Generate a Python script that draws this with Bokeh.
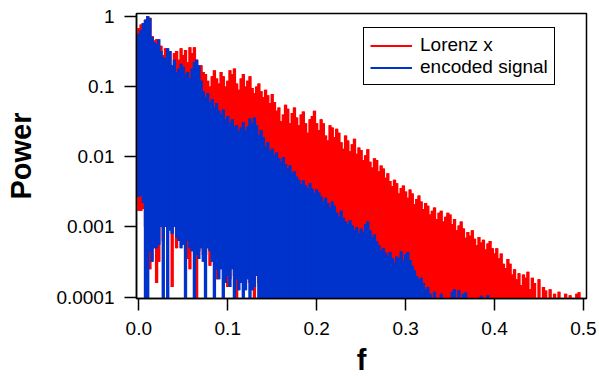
from bokeh.plotting import figure
from bokeh.models import (ColumnDataSource, FixedTicker, CustomJSTickFormatter,
                          Range1d, Legend, LegendItem)
from bokeh.embed import file_html
from bokeh.resources import INLINE

# frequency grid step of the spectra
df = 0.0025

# Lorenz x power spectrum: per-bin maximum (top) and minimum (bottom)
red_top = [
    0.68, 0.76, 0.8, 0.89, 1.0, 0.95, 0.52, 0.45, 0.47, 0.32,
    0.38, 0.28, 0.35, 0.24, 0.32, 0.2, 0.3, 0.32, 0.24, 0.35,
    0.28, 0.33, 0.22, 0.36, 0.3, 0.36, 0.24, 0.18, 0.2, 0.16,
    0.15, 0.12, 0.1, 0.14, 0.17, 0.13, 0.11, 0.16, 0.14, 0.1,
    0.12, 0.17, 0.15, 0.18, 0.11, 0.09, 0.13, 0.15, 0.1, 0.12,
    0.14, 0.095, 0.08, 0.1, 0.11, 0.085, 0.07, 0.09, 0.075, 0.058,
    0.078, 0.06, 0.045, 0.05, 0.032, 0.04, 0.055, 0.048, 0.03, 0.042,
    0.05, 0.036, 0.028, 0.04, 0.044, 0.03, 0.022, 0.034, 0.038, 0.045,
    0.03, 0.024, 0.034, 0.03, 0.02, 0.017, 0.028, 0.026, 0.019, 0.025,
    0.022, 0.016, 0.013, 0.02, 0.017, 0.012, 0.015, 0.018, 0.011, 0.0135,
    0.0125, 0.009, 0.0105, 0.0128, 0.0085, 0.007, 0.0095, 0.009, 0.0062, 0.0075,
    0.0068, 0.005, 0.0058, 0.0045, 0.0038, 0.0047, 0.0042, 0.003, 0.0036, 0.0039,
    0.0032, 0.0026, 0.0034, 0.003, 0.0021, 0.0025, 0.0028, 0.0023, 0.0018, 0.0022,
    0.002, 0.0015, 0.0017, 0.0019, 0.0013, 0.0016, 0.0017, 0.0012, 0.0014, 0.0016,
    0.0015, 0.0011, 0.0013, 0.0009, 0.00105, 0.0012, 0.00095, 0.0007, 0.00085, 0.00075,
    0.0009, 0.00068, 0.00055, 0.00072, 0.0006, 0.00066, 0.00048, 0.00058, 0.00063, 0.0005,
    0.00042, 0.0005, 0.00036, 0.00042, 0.0003, 0.00026, 0.00035, 0.0003, 0.00021, 0.00025,
    0.00018, 0.00022, 0.00015, 0.00021, 0.00019, 0.00023, 0.00013, 0.00019, 0.00016, 0.00009,
    0.00018, 0.00008, 0.00014, 0.000125, 0.000063, 0.00013, 0.000063, 0.000112, 0.00005, 0.00012,
    0.000063, 0.00005, 0.000112, 0.00005, 0.000107, 0.00005, 0.00005, 0.000112, 0.000118, 0.00005,
]
red_bottom = [
    0.0017, 0.0017, 0.0018, 0.001, 0.001, 0.00025, 0.0005, 0.00063, 0.00016, 0.00032,
    0.00126, 0.00063, 0.00126, 0.001, 0.0011, 0.00014, 0.00126, 0.0005, 0.0008, 0.00063,
    0.0007, 0.00063, 0.00035, 0.00025, 0.00056, 0.0005, 1e-6, 0.00045, 0.00063, 0.0004,
    0.0004, 0.00063, 0.00028, 0.0004, 0.00032, 0.00018, 0.00025, 0.00032, 0.00025, 0.0002,
    0.00014, 0.00018, 0.00032, 0.0002, 1e-6, 0.00016, 0.0002, 0.00016, 0.00016, 0.00022,
    0.00016, 0.00016, 1e-6, 0.00025, 0.00016, 1e-6, 1e-6, 1e-6, 1e-6, 1e-6,
    1e-6, 1e-6, 1e-6, 1e-6, 1e-6, 1e-6, 1e-6, 1e-6, 1e-6, 1e-6,
    1e-6, 1e-6, 1e-6, 1e-6, 1e-6, 1e-6, 1e-6, 1e-6, 1e-6, 1e-6,
    1e-6, 1e-6, 1e-6, 1e-6, 1e-6, 1e-6, 1e-6, 1e-6, 1e-6, 1e-6,
    1e-6, 1e-6, 1e-6, 1e-6, 1e-6, 1e-6, 1e-6, 1e-6, 1e-6, 1e-6,
    1e-6, 1e-6, 1e-6, 1e-6, 1e-6, 1e-6, 1e-6, 1e-6, 1e-6, 1e-6,
    1e-6, 1e-6, 1e-6, 1e-6, 1e-6, 1e-6, 1e-6, 1e-6, 1e-6, 1e-6,
    1e-6, 1e-6, 1e-6, 1e-6, 1e-6, 1e-6, 1e-6, 1e-6, 1e-6, 1e-6,
    1e-6, 1e-6, 1e-6, 1e-6, 1e-6, 1e-6, 1e-6, 1e-6, 1e-6, 1e-6,
    1e-6, 1e-6, 1e-6, 1e-6, 1e-6, 1e-6, 1e-6, 1e-6, 1e-6, 1e-6,
    1e-6, 1e-6, 1e-6, 1e-6, 1e-6, 1e-6, 1e-6, 1e-6, 1e-6, 1e-6,
    1e-6, 1e-6, 1e-6, 1e-6, 1e-6, 1e-6, 1e-6, 1e-6, 1e-6, 1e-6,
    1e-6, 1e-6, 1e-6, 1e-6, 1e-6, 1e-6, 1e-6, 1e-6, 1e-6, 1e-6,
    1e-6, 1e-6, 1e-6, 1e-6, 1e-6, 1e-6, 1e-6, 1e-6, 1e-6, 1e-6,
    1e-6, 1e-6, 1e-6, 1e-6, 1e-6, 1e-6, 1e-6, 1e-6, 1e-6, 1e-6,
]

# encoded signal power spectrum: per-bin maximum (top) and minimum (bottom)
blue_top = [
    0.56, 0.63, 0.79, 0.89, 1.0, 0.93, 0.5, 0.42, 0.4, 0.47,
    0.32, 0.26, 0.25, 0.35, 0.32, 0.2, 0.24, 0.16, 0.18, 0.21,
    0.19, 0.15, 0.16, 0.13, 0.18, 0.22, 0.24, 0.2, 0.12, 0.085,
    0.07, 0.08, 0.06, 0.066, 0.05, 0.058, 0.045, 0.04, 0.047, 0.034,
    0.038, 0.03, 0.034, 0.027, 0.028, 0.023, 0.026, 0.031, 0.024, 0.027,
    0.035, 0.03, 0.036, 0.028, 0.02, 0.024, 0.019, 0.014, 0.016, 0.012,
    0.013, 0.0105, 0.0115, 0.0095, 0.0085, 0.0098, 0.0078, 0.0068, 0.0075, 0.0058,
    0.0062, 0.0052, 0.0047, 0.0041, 0.0046, 0.0039, 0.0036, 0.0042, 0.0035, 0.003,
    0.0034, 0.0031, 0.0027, 0.0023, 0.0026, 0.0022, 0.0019, 0.0023, 0.002, 0.0016,
    0.0014, 0.0017, 0.00135, 0.0012, 0.0011, 0.00125, 0.00105, 0.0009, 0.001, 0.00082,
    0.00095, 0.00085, 0.0011, 0.0012, 0.0009, 0.00072, 0.00078, 0.00062, 0.00055, 0.00046,
    0.0005, 0.00043, 0.00039, 0.00044, 0.00036, 0.00031, 0.00038, 0.00036, 0.00045, 0.00033,
    0.00041, 0.00044, 0.00034, 0.00028, 0.00024, 0.0002, 0.00018, 0.00019, 0.00016, 0.00013,
    0.00014, 0.000112, 0.000063, 0.00012, 0.00005, 0.00005, 0.000112, 0.00005, 0.00005, 0.00005,
    0.00005, 0.00012, 0.00013, 0.00005, 0.000126, 0.00005, 0.000112, 0.000117, 0.00005, 0.00005,
    0.00005, 0.00005, 0.00005, 0.00005, 0.000105, 0.00005, 0.00005, 0.000107, 0.00005, 0.00005,
]
blue_bottom = [
    0.0027, 0.0028, 0.0022, 1e-6, 1e-6, 0.00045, 0.00032, 0.0005, 0.0005, 0.00056,
    0.001, 1e-6, 0.001, 1e-6, 0.00089, 0.0008, 0.001, 0.0007, 0.00063, 0.0005,
    0.00056, 1e-6, 0.00063, 0.0005, 0.00045, 1e-6, 0.0004, 0.00035, 0.0005, 0.00032,
    1e-6, 0.0005, 0.00045, 0.00032, 1e-6, 0.00025, 0.00018, 0.00025, 1e-6, 0.00016,
    0.0002, 0.00014, 0.00025, 1e-6, 0.00018, 0.000126, 0.00016, 1e-6, 0.000126, 0.00018,
    1e-6, 0.000126, 0.00014, 0.0002, 1e-6, 1e-6, 1e-6, 1e-6, 1e-6, 1e-6,
    1e-6, 1e-6, 1e-6, 1e-6, 1e-6, 1e-6, 1e-6, 1e-6, 1e-6, 1e-6,
    1e-6, 1e-6, 1e-6, 1e-6, 1e-6, 1e-6, 1e-6, 1e-6, 1e-6, 1e-6,
    1e-6, 1e-6, 1e-6, 1e-6, 1e-6, 1e-6, 1e-6, 1e-6, 1e-6, 1e-6,
    1e-6, 1e-6, 1e-6, 1e-6, 1e-6, 1e-6, 1e-6, 1e-6, 1e-6, 1e-6,
    1e-6, 1e-6, 1e-6, 1e-6, 1e-6, 1e-6, 1e-6, 1e-6, 1e-6, 1e-6,
    1e-6, 1e-6, 1e-6, 1e-6, 1e-6, 1e-6, 1e-6, 1e-6, 1e-6, 1e-6,
    1e-6, 1e-6, 1e-6, 1e-6, 1e-6, 1e-6, 1e-6, 1e-6, 1e-6, 1e-6,
    1e-6, 1e-6, 1e-6, 1e-6, 1e-6, 1e-6, 1e-6, 1e-6, 1e-6, 1e-6,
    1e-6, 1e-6, 1e-6, 1e-6, 1e-6, 1e-6, 1e-6, 1e-6, 1e-6, 1e-6,
    1e-6, 1e-6, 1e-6, 1e-6, 1e-6, 1e-6, 1e-6, 1e-6, 1e-6, 1e-6,
]

x_ticks = [0.0, 0.1, 0.2, 0.3, 0.4, 0.5]
y_ticks = [0.0001, 0.001, 0.01, 0.1, 1.0]
series_names = ["Lorenz x", "encoded signal"]

nr = min(len(red_top), len(red_bottom))
nb = min(len(blue_top), len(blue_bottom))
red_src = ColumnDataSource(dict(f=[i * df for i in range(nr)],
                                hi=red_top[:nr], lo=red_bottom[:nr]))
blue_src = ColumnDataSource(dict(f=[i * df for i in range(nb)],
                                 hi=blue_top[:nb], lo=blue_bottom[:nb]))

FONT = "Liberation Sans"
RED = "#FF0000"
BLUE = "#0033CC"

p = figure(width=599, height=378, y_axis_type="log",
           x_range=Range1d(-0.0026, 0.5034), y_range=Range1d(9.6e-5, 1.09),
           output_backend="svg", toolbar_location=None,
           min_border_left=136, min_border_right=13,
           min_border_top=13, min_border_bottom=79)
p.background_fill_color = "white"
p.border_fill_color = "white"
p.xgrid.visible = False
p.ygrid.visible = False
p.outline_line_color = "black"
p.outline_line_width = 1.5
p.outline_line_alpha = 1.0

# filled min-max columns (slightly overlapping so that no seams show)
p.vbar(x="f", bottom="lo", top="hi", width=df * 1.5, source=red_src,
       fill_color=RED, line_color=None)
r_red = p.segment(x0="f", y0="lo", x1="f", y1="hi", source=red_src,
                  line_color=RED, line_width=2)
p.vbar(x="f", bottom="lo", top="hi", width=df * 1.5, source=blue_src,
       fill_color=BLUE, line_color=None)
r_blue = p.segment(x0="f", y0="lo", x1="f", y1="hi", source=blue_src,
                   line_color=BLUE, line_width=2)

p.xaxis.ticker = FixedTicker(ticks=x_ticks)
p.xaxis.formatter = CustomJSTickFormatter(code="return tick.toFixed(1);")
p.yaxis.ticker = FixedTicker(ticks=y_ticks)
p.yaxis.formatter = CustomJSTickFormatter(
    code="return String(Number(tick.toPrecision(1)));")
p.xaxis.axis_label = "f"
p.yaxis.axis_label = "Power"

for ax in (p.xaxis[0], p.yaxis[0]):
    ax.axis_line_color = "black"
    ax.axis_line_width = 1.5
    ax.major_tick_line_color = "black"
    ax.major_tick_line_width = 1.5
    ax.major_tick_in = 0
    ax.major_tick_out = 12
    ax.minor_tick_line_color = None
    ax.major_label_text_font = FONT
    ax.major_label_text_font_size = "19px"
    ax.major_label_text_color = "black"
    ax.major_label_text_line_height = 1.0
    ax.axis_label_text_font = FONT
    ax.axis_label_text_font_size = "29px"
    ax.axis_label_text_font_style = "bold"
    ax.axis_label_text_color = "black"
    ax.axis_label_text_line_height = 1.0

p.xaxis.major_label_standoff = 11
p.xaxis.axis_label_standoff = 6
p.yaxis.major_label_standoff = 10
p.yaxis.axis_label_standoff = 16

legend = Legend(items=[LegendItem(label=series_names[0], renderers=[r_red]),
                       LegendItem(label=series_names[1], renderers=[r_blue])],
                location=(227, 213))
legend.label_text_font = FONT
legend.label_text_font_size = "19px"
legend.label_text_color = "black"
legend.glyph_width = 42
legend.glyph_height = 19
legend.label_height = 19
legend.label_standoff = 8
legend.spacing = 0
legend.padding = 6
legend.margin = 0
legend.border_line_color = "black"
legend.border_line_width = 1.5
legend.border_line_alpha = 1.0
legend.background_fill_color = "white"
legend.background_fill_alpha = 1.0
p.add_layout(legend)

open("out.html", "w").write(file_html(p, INLINE))
